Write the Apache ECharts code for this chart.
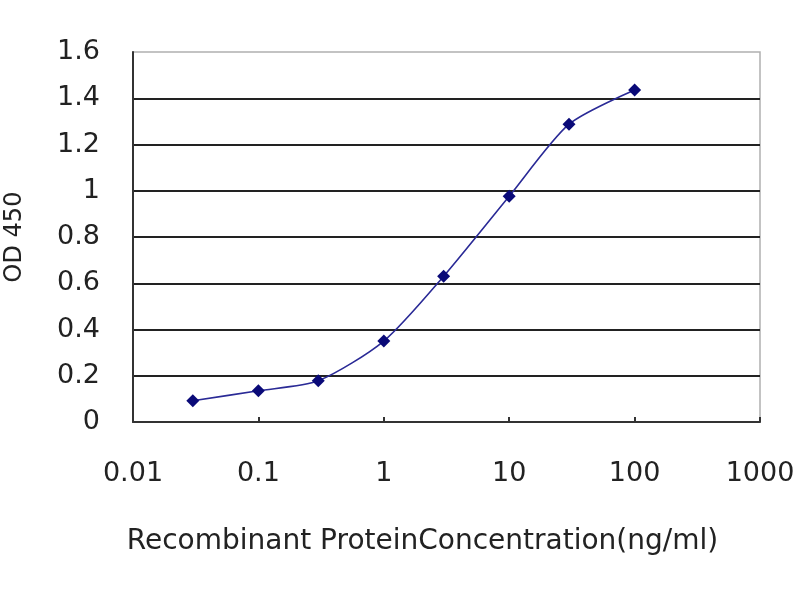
<!DOCTYPE html>
<html>
<head>
<meta charset="utf-8">
<script src="https://cdn.jsdelivr.net/npm/echarts@6/dist/echarts.min.js"></script>
<style>
  html, body { margin: 0; padding: 0; background: #fff; }
  #chart { width: 800px; height: 600px; }
</style>
</head>
<body>
<div id="chart"></div>
<script>
// concentrations (ng/ml) and OD 450 readings
var concentration = [0.03, 0.1, 0.3, 1, 3, 10, 30, 100];
var od450 = [0.092, 0.135, 0.178, 0.35, 0.63, 0.976, 1.288, 1.436];
var xTickLabels = ['0.01', '0.1', '1', '10', '100', '1000'];

var font = 'DejaVu Sans';
var chart = echarts.init(document.getElementById('chart'));

var points = concentration.map(function (c, i) { return [c, od450[i]]; });

var option = {
  backgroundColor: '#fff',
  animation: false,
  grid: {
    left: 133, right: 40, top: 52, bottom: 178,
    outerBoundsMode: 'none',
    show: true, borderColor: '#b0b0b0', borderWidth: 1.5
  },
  xAxis: {
    type: 'log',
    logBase: 10,
    min: 0.01,
    max: 1000,
    name: 'Recombinant ProteinConcentration(ng/ml)',
    nameLocation: 'middle',
    nameGap: 106,
    nameTextStyle: { fontFamily: font, fontSize: 28, color: '#222', padding: [0, 48, 0, 0] },
    axisLine: { lineStyle: { color: '#333', width: 2 } },
    axisTick: { inside: true, length: 5, lineStyle: { color: '#333', width: 2 } },
    minorTick: { show: false },
    splitLine: { show: false },
    axisLabel: {
      margin: 38,
      fontFamily: font, fontSize: 27, color: '#222',
      formatter: function (v) {
        var idx = Math.round(Math.log10(v)) + 2;
        return xTickLabels[idx] || '';
      }
    }
  },
  yAxis: {
    type: 'value',
    min: 0,
    max: 1.6,
    interval: 0.2,
    name: 'OD 450',
    nameLocation: 'middle',
    nameGap: 106,
    nameTextStyle: { fontFamily: font, fontSize: 24, color: '#222' },
    axisLine: { show: true, lineStyle: { color: '#333', width: 2 } },
    axisTick: { show: false },
    splitLine: { show: true, showMaxLine: false, lineStyle: { color: '#222', width: 2 } },
    axisLabel: {
      margin: 33,
      fontFamily: font, fontSize: 27, color: '#222',
      formatter: function (v) { return String(Math.round(v * 10) / 10); }
    }
  },
  series: [{
    type: 'line',
    data: points,
    smooth: 0.25,
    symbol: 'diamond',
    symbolSize: 13,
    itemStyle: { color: '#0a0a78' },
    lineStyle: { color: '#2a2a96', width: 1.6 }
  }]
};

chart.setOption(option);
</script>
</body>
</html>
